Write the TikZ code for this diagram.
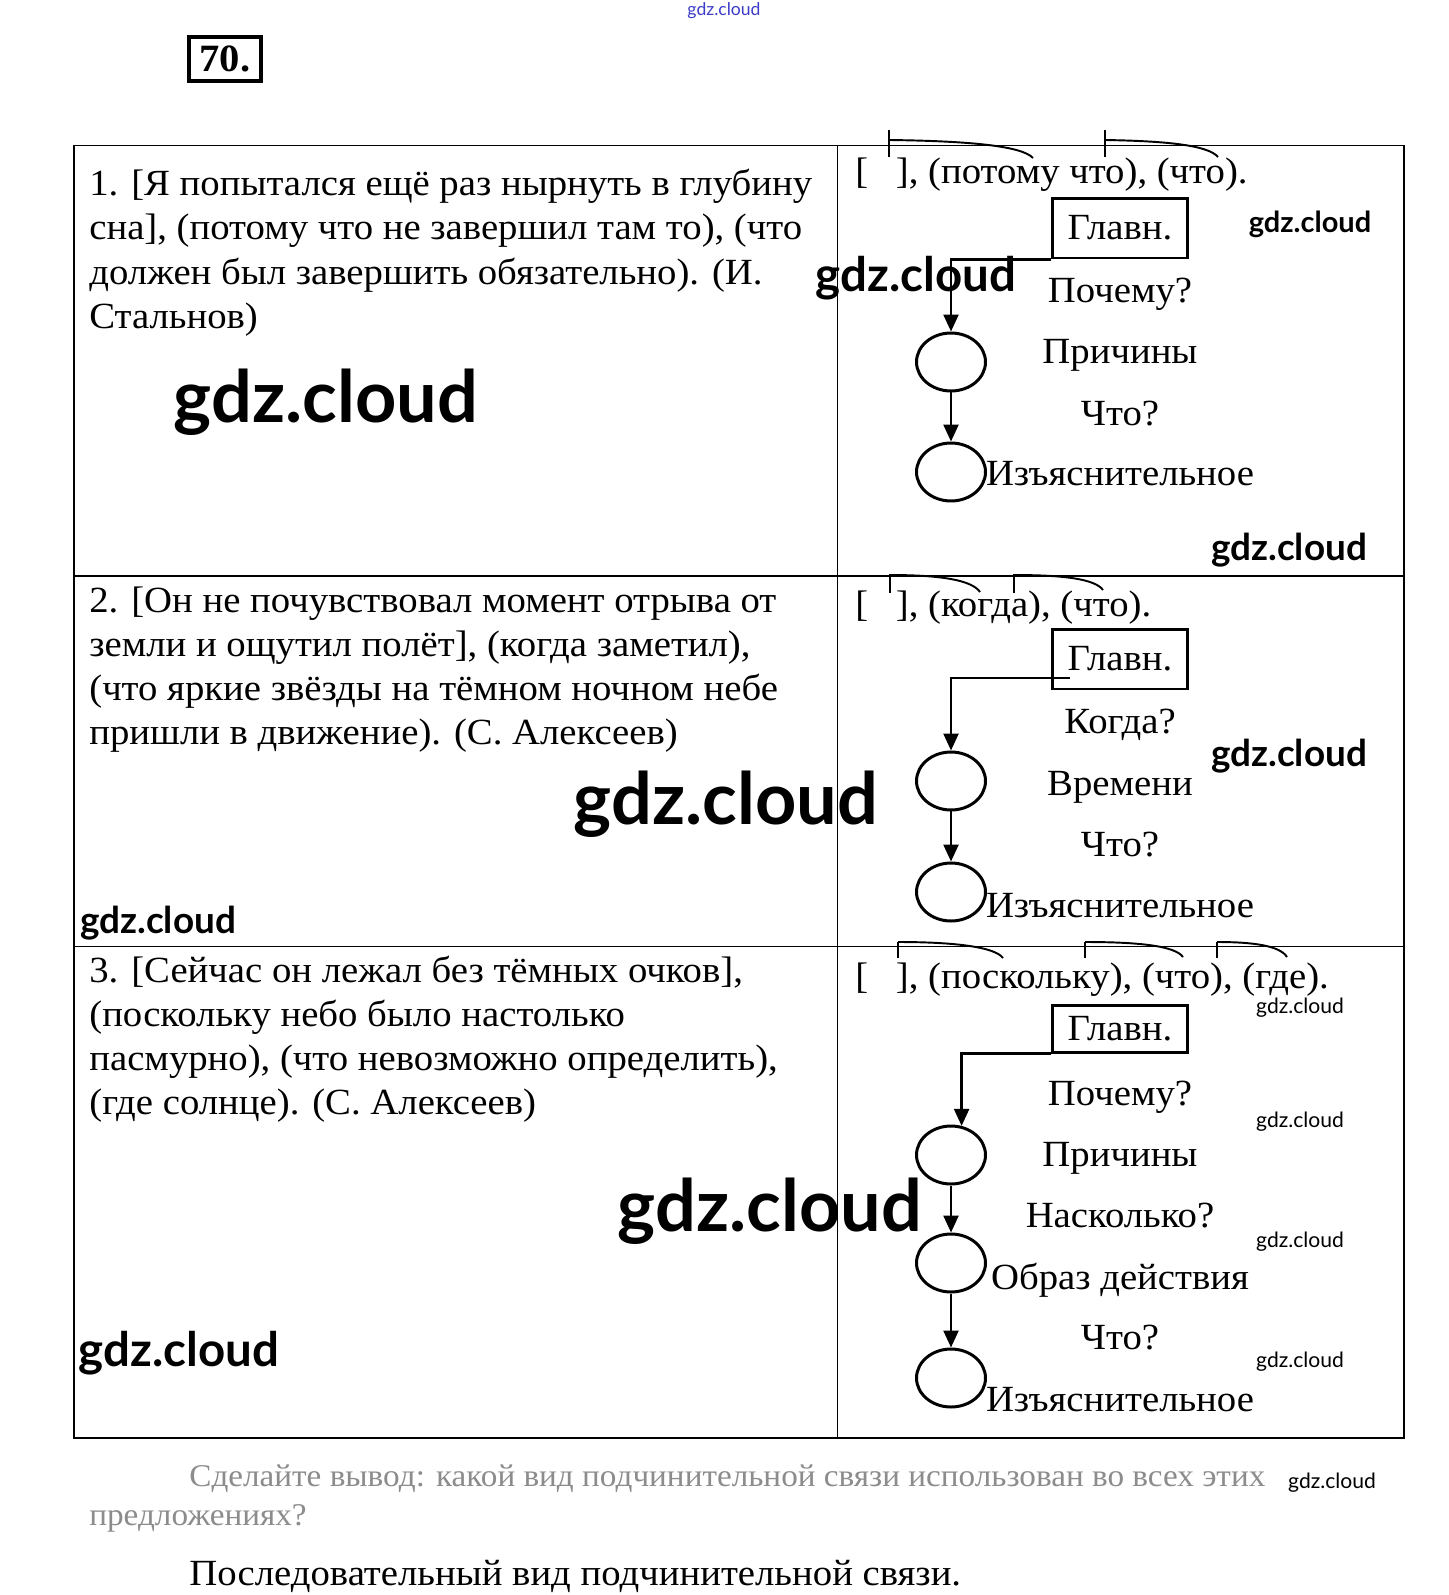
\documentclass[tikz,border=0pt]{standalone}
\usepackage{fontspec}
\setmainfont{Liberation Serif}[FakeStretch=1.05]
\newfontfamily\wmfont{Lato}
\usepackage{xcolor}
\definecolor{vizQuestion}{HTML}{8C8C8C}
\definecolor{vizMark}{HTML}{3C3CC8}
\usetikzlibrary{arrows.meta,shapes.geometric}

\tikzset{
  txt/.style={anchor=base west, inner sep=0pt, font=\fontsize{21}{25}\selectfont},
  lbl/.style={anchor=base, inner sep=0pt, font=\fontsize{21}{25}\selectfont},
  mainbox/.style={draw, line width=1.7pt, inner sep=0pt, minimum width=2.69cm,
    minimum height=1.2cm, font=\fontsize{21}{25}\selectfont},
  clause/.style={draw, ellipse, line width=1.7pt, inner sep=0pt,
    minimum width=1.38cm, minimum height=1.16cm},
  link/.style={line width=1.4pt, -{Triangle[length=0.34cm,width=0.3cm]}},
  hook/.style={line width=1.1pt},
  wm/.style={inner sep=0pt, font=\wmfont\bfseries\fontsize{#1}{#1}\selectfont},
  wmthin/.style={inner sep=0pt, font=\wmfont\fontsize{#1}{#1}\selectfont},
}

\begin{document}
\begin{tikzpicture}[x=0.02cm, y=-0.02cm]
  \useasboundingbox (0,0) rectangle (1448,1595);
  \fill[white] (0,0) rectangle (1448,1595);

  \node[wmthin=10, text=vizMark] (wm0) at (724,11) {gdz.cloud};
  \node[draw, line width=2pt, inner sep=0pt, minimum width=1.45cm, minimum height=0.88cm,
    font=\bfseries\fontsize{22}{22}\selectfont] (num) at (225,59) {70.};

  % table
  \draw[line width=1.1pt] (74,145.5) rectangle (1404,1438);
  \draw[line width=1.1pt] (74,576) -- (1404,576);
  \draw[line width=1.1pt] (74,946.5) -- (1404,946.5);
  \draw[line width=1.1pt] (837.5,145.5) -- (837.5,1438);

  % sentences
  \foreach \ln [count=\i] in {{1. [Я попытался ещё раз нырнуть в глубину},
      {сна], (потому что не завершил там то), (что},
      {должен был завершить обязательно). (И.}, {Стальнов)}}
    \node[txt] (ra\i) at (89, {195+44.5*(\i-1)}) {\ln};
  \foreach \ln [count=\i] in {{2. [Он не почувствовал момент отрыва от},
      {земли и ощутил полёт], (когда заметил),},
      {(что яркие звёзды на тёмном ночном небе},
      {пришли в движение). (С. Алексеев)}}
    \node[txt] (rb\i) at (89, {612+44.3*(\i-1)}) {\ln};
  \foreach \ln [count=\i] in {{3. [Сейчас он лежал без тёмных очков],},
      {(поскольку небо было настолько},
      {пасмурно), (что невозможно определить),},
      {(где солнце). (С. Алексеев)}}
    \node[txt] (rc\i) at (89, {982+44.3*(\i-1)}) {\ln};

  % scheme 1
  \node[txt] (sa) at (855,183) {[\hspace{0.75em}], (потому что), (что).};
  \draw[hook] (889,130) -- (889,157);
  \draw[hook] (889,140) .. controls (970,141) and (1022,146) .. (1033,158);
  \draw[hook] (1105,130) -- (1105,157);
  \draw[hook] (1105,140) .. controls (1165,141) and (1208,145) .. (1218,157);
  \node[mainbox] (ga) at (1120,228) {Главн.};
  \node[lbl] (qa1) at (1120,302) {Почему?};
  \node[clause] (ca1) at (951,362) {};
  \node[lbl] (ta1) at (1120,363) {Причины};
  \node[lbl] (qa2) at (1120,425) {Что?};
  \node[clause] (ca2) at (951,472) {};
  \node[lbl] (ta2) at (1120,485) {Изъяснительное};
  \draw[link] (ga.south west) -| (ca1.north);
  \draw[link] (ca1) -- (ca2);

  % scheme 2
  \node[txt] (sb) at (855,616) {[\hspace{0.75em}], (когда), (что).};
  \draw[hook] (890,574) -- (890,593);
  \draw[hook] (890,575) .. controls (940,575) and (972,580) .. (980,592);
  \draw[hook] (1014,574) -- (1014,593);
  \draw[hook] (1014,575) .. controls (1064,575) and (1095,579) .. (1103,590);
  \node[mainbox] (gb) at (1120,659) {Главн.};
  \coordinate (kb) at (1070,678);
  \node[lbl] (qb1) at (1120,733) {Когда?};
  \node[clause] (cb1) at (951,781) {};
  \node[lbl] (tb1) at (1120,795) {Времени};
  \node[lbl] (qb2) at (1120,856) {Что?};
  \node[clause] (cb2) at (951,892) {};
  \node[lbl] (tb2) at (1120,917) {Изъяснительное};
  \draw[link] (kb) -| (cb1.north);
  \draw[link] (cb1) -- (cb2);

  % scheme 3
  \node[txt] (sc) at (855,988) {[\hspace{0.75em}], (поскольку), (что), (где).};
  \draw[hook] (898,942) -- (898,958);
  \draw[hook] (898,942) .. controls (955,942) and (995,947) .. (1003,958);
  \draw[hook] (1085,942) -- (1085,958);
  \draw[hook] (1085,942) .. controls (1140,942) and (1175,946) .. (1183,957);
  \draw[hook] (1217,942) -- (1217,958);
  \draw[hook] (1217,942) .. controls (1255,942) and (1280,946) .. (1287,957);
  \node[mainbox, minimum height=0.94cm] (gc) at (1120,1028.5) {Главн.};
  \node[lbl] (qc1) at (1120,1105) {Почему?};
  \node[clause] (cc1) at (951,1155) {};
  \node[lbl] (tc1) at (1120,1166) {Причины};
  \node[lbl] (qc2) at (1120,1227) {Насколько?};
  \node[clause] (cc2) at (951,1263) {};
  \node[lbl] (tc2) at (1120,1289) {Образ действия};
  \node[lbl] (qc3) at (1120,1349) {Что?};
  \node[clause] (cc3) at (951,1378) {};
  \node[lbl] (tc3) at (1120,1411) {Изъяснительное};
  \draw[link] (gc.south west) -| (cc1.70);
  \draw[link] (cc1) -- (cc2);
  \draw[link] (cc2) -- (cc3);

  % conclusion
  \node[anchor=base west, inner sep=0pt, text=vizQuestion, font=\fontsize{18}{22}\selectfont]
    (qq1) at (189,1486) {Сделайте вывод: какой вид подчинительной связи использован во всех этих};
  \node[anchor=base west, inner sep=0pt, text=vizQuestion, font=\fontsize{18}{22}\selectfont]
    (qq2) at (89,1525) {предложениях?};
  \node[anchor=base west, inner sep=0pt, font=\fontsize{21}{25}\selectfont]
    (ans) at (189,1585) {Последовательный вид подчинительной связи.};

  % watermarks
  \node[wm=27] (wm1) at (916,278) {gdz.cloud};
  \node[wm=41] (wm2) at (326,402) {gdz.cloud};
  \node[wm=16.5] (wm3) at (1310,224) {gdz.cloud};
  \node[wm=21] (wm4) at (1289,550) {gdz.cloud};
  \node[wm=21] (wm5) at (1289,756) {gdz.cloud};
  \node[wm=41] (wm6) at (726,804) {gdz.cloud};
  \node[wm=21] (wm7) at (158,923) {gdz.cloud};
  \node[wm=41] (wm8) at (770,1211) {gdz.cloud};
  \node[wm=27] (wm9) at (179,1353) {gdz.cloud};
  \node[wmthin=12] (wm10) at (1300,1008) {gdz.cloud};
  \node[wmthin=12] (wm11) at (1300,1122) {gdz.cloud};
  \node[wmthin=12] (wm12) at (1300,1242) {gdz.cloud};
  \node[wmthin=12] (wm13) at (1300,1362) {gdz.cloud};
  \node[wmthin=12] (wm14) at (1332,1483) {gdz.cloud};
\end{tikzpicture}
\end{document}
